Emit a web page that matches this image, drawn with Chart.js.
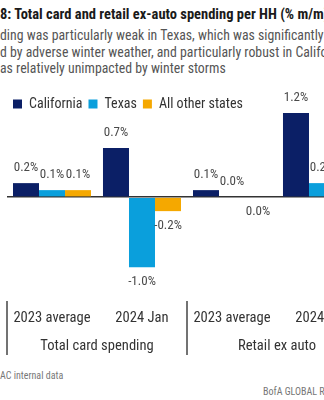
<!DOCTYPE html>
<html>
<head>
<meta charset="utf-8" />
<style>
  html, body { margin: 0; padding: 0; background: #fff; }
  body { width: 324px; height: 400px; overflow: hidden; position: relative;
         font-family: 'Roboto Condensed', 'Roboto', sans-serif; }
  .t { position: absolute; left: 0; white-space: nowrap; }
  #title { top: 6px; font-weight: bold; font-size: 14.5px; color: #1a1a1a; }
  .sub { font-size: 13.8px; color: #555; }
  #wrap { position: absolute; left: 0; top: 91px; width: 370px; height: 269px; }
  .src { font-size: 10px; color: #777; }
</style>
</head>
<body>
<div class="t" id="title">8: Total card and retail ex-auto spending per HH (% m/m)</div>
<div class="t sub" style="top:27px">ding was particularly weak in Texas, which was significantly</div>
<div class="t sub" style="top:44px">d by adverse winter weather, and particularly robust in California, which</div>
<div class="t sub" style="top:60px">as relatively unimpacted by winter storms</div>
<div id="wrap"><canvas id="c" width="370" height="269"></canvas></div>
<div class="t src" style="top:370px">AC internal data</div>
<div class="t src" style="top:386px; left:263px">BofA GLOBAL RESEARCH</div>
<script src="https://cdn.jsdelivr.net/npm/chart.js@4.4.3/dist/chart.umd.min.js"></script>
<script>
const periods = ['2023 average', '2024 Jan', '2023 average', '2024 Jan'];
const groups = ['Total card spending', 'Retail ex auto'];
const seriesNames = ['California', 'Texas', 'All other states'];
const california = [0.2, 0.7, 0.1, 1.2];
const texas = [0.1, -1.0, 0.0, 0.2];
// -0 is a small decline that rounds to zero; its label sits below the axis
const otherStates = [0.1, -0.2, -0, null];
const colors = ['#0b1f66', '#0a9fdc', '#f5a800'];

const FONT = "'Roboto Condensed', 'Roboto', sans-serif";

// legend sits right on top of the plot, drop its default bottom gap
const tightLegend = {
  id: 'tightLegend',
  beforeInit(chart) {
    const fit = chart.legend.fit;
    chart.legend.fit = function () { fit.call(this); this.height -= 10; };
  }
};

const valueLabels = {
  id: 'valueLabels',
  afterDatasetsDraw(chart) {
    const ctx = chart.ctx;
    ctx.save();
    ctx.font = '13px ' + FONT;
    ctx.fillStyle = '#4a4a4a';
    ctx.textAlign = 'center';
    ctx.textBaseline = 'middle';
    chart.data.datasets.forEach((ds, di) => {
      chart.getDatasetMeta(di).data.forEach((bar, i) => {
        const v = ds.data[i];
        if (v === null) return;
        const down = v < 0 || Object.is(v, -0);
        ctx.fillText(v.toFixed(1) + '%', bar.x, down ? bar.y + 15 : bar.y - 15);
      });
    });
    ctx.restore();
  }
};

// vertical rules between the two spending groups under the axis
const groupRules = {
  id: 'groupRules',
  afterDraw(chart) {
    const x = chart.scales.x, x2 = chart.scales.x2;
    const ctx = chart.ctx;
    ctx.save();
    ctx.strokeStyle = '#444';
    ctx.lineWidth = 1.5;
    for (let g = 0; g <= groups.length; g++) {
      const px = Math.round(x2.getPixelForValue(g - 0.5));
      ctx.beginPath();
      ctx.moveTo(px, x.top - 4);
      ctx.lineTo(px, x2.bottom - 5);
      ctx.stroke();
    }
    ctx.restore();
  }
};

new Chart(document.getElementById('c'), {
  type: 'bar',
  data: {
    labels: periods,
    datasets: [california, texas, otherStates].map((d, i) => ({
      label: seriesNames[i],
      data: d,
      backgroundColor: colors[i],
      borderWidth: 0,
      categoryPercentage: 0.867,
      barPercentage: 1
    }))
  },
  options: {
    responsive: false,
    animation: false,
    layout: { padding: { left: 7, right: 3, top: 0, bottom: 0 } },
    plugins: {
      legend: {
        position: 'top',
        align: 'start',
        labels: { boxWidth: 9, boxHeight: 9, padding: 6, color: '#333', font: { family: FONT, size: 14 } }
      },
      tooltip: { enabled: false }
    },
    scales: {
      y: {
        min: -1.54, max: 1.23,
        ticks: { display: false, stepSize: 0.1 },
        border: { display: false },
        grid: {
          drawTicks: false,
          lineWidth: 1.5,
          color: c => Math.abs(c.tick.value) < 1e-9 ? '#333' : 'rgba(0,0,0,0)'
        }
      },
      x: {
        offset: true,
        grid: { display: false, drawTicks: false },
        border: { display: false },
        ticks: { autoSkip: false, maxRotation: 0, padding: 5, color: '#333', font: { family: FONT, size: 14.6 } }
      },
      x2: {
        type: 'category',
        labels: groups,
        position: 'bottom',
        offset: true,
        grid: { display: false, drawTicks: false },
        border: { display: false },
        ticks: { padding: 5, color: '#333', font: { family: FONT, size: 14.6 } }
      }
    }
  },
  plugins: [tightLegend, valueLabels, groupRules]
});
</script>
</body>
</html>
